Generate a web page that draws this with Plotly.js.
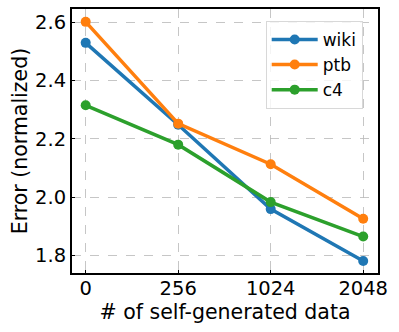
<!DOCTYPE html>
<html lang="en">
<head>
    <meta charset="UTF-8">
    <title>Error vs self-generated data</title>
    <script src="https://cdn.plot.ly/plotly-3.0.1.min.js"></script>
    <style>
        body { margin: 0; padding: 0; background: white; }
        #plot { width: 399px; height: 332px; }
    </style>
</head>
<body>
    <div id="plot"></div>
    <script>
        const categories = ['0', '256', '1024', '2048'];
        const wiki = [2.529, 2.248, 1.959, 1.781];
        const ptb = [2.601, 2.252, 2.113, 1.926];
        const c4 = [2.315, 2.180, 1.983, 1.865];

        const seriesNames = ['wiki', 'ptb', 'c4'];
        const seriesValues = [wiki, ptb, c4];
        const colors = ['#1f77b4', '#ff7f0e', '#2ca02c'];

        const traces = seriesValues.map((vals, i) => ({
            x: categories,
            y: vals,
            type: 'scatter',
            mode: 'lines+markers',
            name: seriesNames[i],
            line: {color: colors[i], width: 3.5},
            marker: {color: colors[i], size: 10}
        }));

        const font = {family: 'DejaVu Sans, sans-serif', color: 'black'};

        const layout = {
            width: 399,
            height: 332,
            margin: {l: 72, r: 21, t: 9, b: 59},
            paper_bgcolor: 'white',
            plot_bgcolor: 'white',
            font: font,
            showlegend: true,
            legend: {
                x: 0.633, y: 0.955, xanchor: 'left', yanchor: 'top',
                bgcolor: 'rgba(255,255,255,0.8)',
                bordercolor: '#d8d8d8', borderwidth: 1,
                font: {family: 'DejaVu Sans, sans-serif', size: 17, color: 'black'},
                itemwidth: 46
            },
            xaxis: {
                type: 'category',
                range: [-0.148, 3.16],
                title: {text: '# of self-generated data', font: {size: 20.5}, standoff: 1},
                tickfont: {size: 19.5},
                ticklabelstandoff: -3,
                showline: true, linecolor: 'black', linewidth: 2, mirror: true,
                showgrid: true, gridcolor: '#b8b8b8', griddash: 'dash', gridwidth: 0.8,
                ticks: 'inside', ticklen: 3, tickcolor: 'black',
                zeroline: false
            },
            yaxis: {
                range: [1.740, 2.645],
                tickvals: [1.8, 2.0, 2.2, 2.4, 2.6],
                ticktext: ['1.8', '2.0', '2.2', '2.4', '2.6'],
                title: {text: 'Error (normalized)', font: {size: 20.5}, standoff: 2},
                tickfont: {size: 19.5},
                showline: true, linecolor: 'black', linewidth: 2, mirror: true,
                showgrid: true, gridcolor: '#b8b8b8', griddash: 'dash', gridwidth: 0.8,
                ticks: 'inside', ticklen: 3, tickcolor: 'black',
                zeroline: false
            }
        };

        Plotly.newPlot('plot', traces, layout, {displayModeBar: false, staticPlot: true});
    </script>
</body>
</html>
